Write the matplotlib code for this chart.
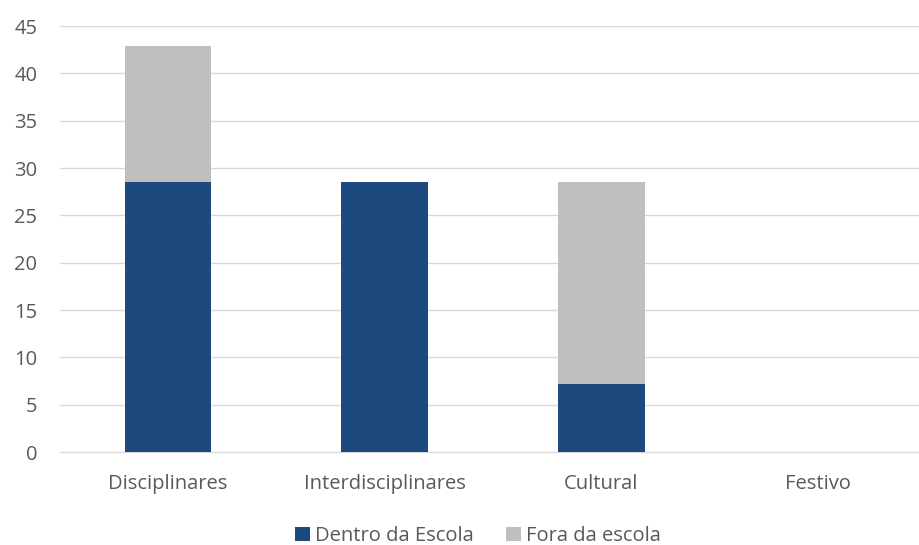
import matplotlib.pyplot as plt

plt.rcParams['font.family'] = ['Open Sans', 'DejaVu Sans']

categories = ["Disciplinares", "Interdisciplinares", "Cultural", "Festivo"]
dentro = [28.57, 28.57, 7.14, 0]
fora = [14.29, 0, 21.43, 0]

fig = plt.figure(figsize=(9.19, 5.45), dpi=100)
ax = fig.add_axes([59.5 / 919, 1 - 452 / 545, (919 - 59.5) / 919, 426 / 545])

x = range(len(categories))
ax.bar(x, dentro, width=0.4, color="#1c4a7e", label="Dentro da Escola", zorder=3)
ax.bar(x, fora, width=0.4, bottom=dentro, color="#bfbfbf", label="Fora da escola", zorder=3)

ax.set_xlim(-0.5, 3.465)
ax.set_ylim(0, 45)
ax.set_yticks(range(0, 46, 5))
ax.set_xticks(list(x))
ax.set_xticklabels(categories)
ax.grid(axis="y", color="#d9d9d9", linewidth=1, zorder=0)
for s in ["top", "right", "left"]:
    ax.spines[s].set_visible(False)
ax.spines["bottom"].set_color("#d9d9d9")
ax.tick_params(length=0, labelsize=14.5, colors="#595959")
ax.tick_params(axis="y", pad=16)
ax.tick_params(axis="x", pad=16)

fig.legend(loc="lower center", bbox_to_anchor=(0.52, -0.035), ncol=2, frameon=False,
           fontsize=14.5, labelcolor="#595959", handlelength=0.75, handleheight=0.75,
           handletextpad=0.25, columnspacing=1.6)

fig.savefig("out.png", dpi=100)
